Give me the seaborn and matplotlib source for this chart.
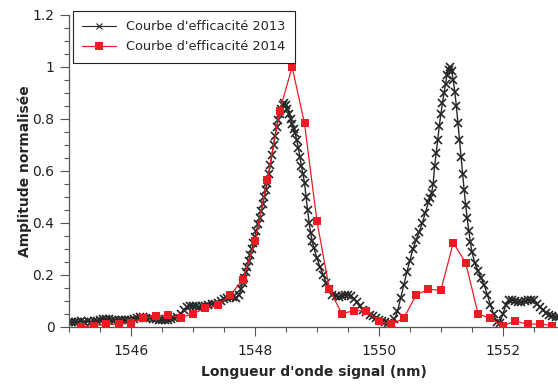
import numpy as np
import pandas as pd
import matplotlib
matplotlib.use("Agg")
import matplotlib.pyplot as plt
from matplotlib.ticker import MultipleLocator, FuncFormatter
import seaborn as sns

# Courbe 2013 (black crosses)
wl_2013 = [
    1545.00, 1545.05, 1545.10, 1545.15, 1545.20, 1545.25, 1545.30, 1545.35, 1545.40, 1545.45,
    1545.50, 1545.55, 1545.60, 1545.65, 1545.70, 1545.75, 1545.80, 1545.85, 1545.90, 1545.95,
    1546.00, 1546.05, 1546.10, 1546.15, 1546.20, 1546.25, 1546.30, 1546.35, 1546.40, 1546.45,
    1546.50, 1546.55, 1546.60, 1546.65, 1546.70, 1546.75, 1546.80, 1546.85, 1546.90, 1546.95,
    1547.00, 1547.05, 1547.10, 1547.15, 1547.20, 1547.25, 1547.30, 1547.35, 1547.40, 1547.45,
    1547.50, 1547.55, 1547.60, 1547.65, 1547.70,
    1547.750, 1547.775, 1547.800, 1547.825, 1547.850, 1547.875, 1547.900, 1547.925, 1547.950, 1547.975,
    1548.000, 1548.025, 1548.050, 1548.075, 1548.100, 1548.125, 1548.150, 1548.175, 1548.200, 1548.225,
    1548.250, 1548.275, 1548.300, 1548.325, 1548.350, 1548.375, 1548.400, 1548.425, 1548.450, 1548.475,
    1548.500, 1548.525, 1548.550, 1548.575, 1548.600, 1548.625, 1548.650, 1548.675, 1548.700, 1548.725,
    1548.750, 1548.775, 1548.800, 1548.825, 1548.850, 1548.875, 1548.900, 1548.925, 1548.950,
    1549.00, 1549.05, 1549.10, 1549.15, 1549.20, 1549.25, 1549.30, 1549.35, 1549.40, 1549.45,
    1549.50, 1549.55, 1549.60, 1549.65, 1549.70, 1549.75, 1549.80, 1549.85, 1549.90, 1549.95,
    1550.00, 1550.05, 1550.10, 1550.15, 1550.20, 1550.25, 1550.30, 1550.35, 1550.40, 1550.45,
    1550.50, 1550.55, 1550.60, 1550.65, 1550.70, 1550.75,
    1550.800, 1550.825, 1550.850, 1550.875, 1550.900, 1550.925, 1550.950, 1550.975, 1551.000, 1551.025,
    1551.050, 1551.075, 1551.100, 1551.125, 1551.150, 1551.175, 1551.200, 1551.225, 1551.250, 1551.275,
    1551.300, 1551.325, 1551.350, 1551.375, 1551.400, 1551.425, 1551.450, 1551.475, 1551.500,
    1551.55, 1551.60, 1551.65, 1551.70, 1551.75, 1551.80, 1551.85, 1551.90, 1551.95,
    1552.00, 1552.05, 1552.10, 1552.15, 1552.20, 1552.25, 1552.30, 1552.35, 1552.40, 1552.45,
    1552.50, 1552.55, 1552.60, 1552.65, 1552.70, 1552.75, 1552.80, 1552.85, 1552.90,
]
amp_2013 = [
    0.020, 0.020, 0.021, 0.020, 0.022, 0.021, 0.022, 0.020, 0.022, 0.025,
    0.028, 0.030, 0.030, 0.029, 0.028, 0.027, 0.028, 0.027, 0.026, 0.026,
    0.027, 0.030, 0.036, 0.040, 0.038, 0.035, 0.033, 0.031, 0.030, 0.028,
    0.026, 0.026, 0.028, 0.031, 0.034, 0.040, 0.050, 0.065, 0.076, 0.080,
    0.080, 0.079, 0.078, 0.080, 0.082, 0.086, 0.089, 0.090, 0.094, 0.100,
    0.106, 0.112, 0.117, 0.115, 0.112,
    0.125, 0.148, 0.170, 0.190, 0.210, 0.232, 0.255, 0.278, 0.300, 0.322,
    0.345, 0.370, 0.395, 0.420, 0.445, 0.472, 0.500, 0.527, 0.555, 0.590,
    0.625, 0.662, 0.700, 0.735, 0.770, 0.797, 0.820, 0.840, 0.855, 0.860,
    0.855, 0.840, 0.820, 0.800, 0.780, 0.763, 0.745, 0.718, 0.690, 0.655,
    0.620, 0.588, 0.555, 0.500, 0.450, 0.400, 0.360, 0.330, 0.305,
    0.265, 0.230, 0.200, 0.170, 0.145, 0.125, 0.118, 0.117, 0.118, 0.122,
    0.125, 0.120, 0.108, 0.095, 0.080, 0.065, 0.056, 0.048, 0.041, 0.034,
    0.027, 0.022, 0.018, 0.015, 0.014, 0.030, 0.060, 0.110, 0.160, 0.210,
    0.255, 0.300, 0.335, 0.365, 0.400, 0.440,
    0.480, 0.495, 0.515, 0.550, 0.620, 0.670, 0.720, 0.775, 0.820, 0.862,
    0.900, 0.935, 0.970, 0.990, 1.000, 0.985, 0.950, 0.905, 0.850, 0.785,
    0.720, 0.655, 0.590, 0.528, 0.470, 0.418, 0.370, 0.328, 0.290,
    0.245, 0.215, 0.190, 0.160, 0.125, 0.085, 0.050, 0.020, 0.015,
    0.050, 0.085, 0.103, 0.105, 0.100, 0.097, 0.098, 0.100, 0.102, 0.104,
    0.102, 0.090, 0.078, 0.065, 0.052, 0.045, 0.042, 0.040, 0.040,
]

# Courbe 2014 (red squares)
wl_2014 = [
    1545.2, 1545.4, 1545.6, 1545.8, 1546.0, 1546.2, 1546.4, 1546.6, 1546.8, 1547.0,
    1547.2, 1547.4, 1547.6, 1547.8, 1548.0, 1548.2, 1548.4, 1548.6, 1548.8, 1549.0,
    1549.2, 1549.4, 1549.6, 1549.8, 1550.0, 1550.2, 1550.4, 1550.6, 1550.8, 1551.0,
    1551.2, 1551.4, 1551.6, 1551.8, 1552.0, 1552.2, 1552.4, 1552.6, 1552.8,
]
amp_2014 = [
    0.000, 0.005, 0.010, 0.010, 0.017, 0.033, 0.043, 0.046, 0.036, 0.051,
    0.072, 0.085, 0.123, 0.180, 0.330, 0.567, 0.832, 1.000, 0.783, 0.408,
    0.147, 0.051, 0.063, 0.062, 0.023, 0.010, 0.033, 0.123, 0.145, 0.141,
    0.324, 0.247, 0.051, 0.033, 0.004, 0.023, 0.010, 0.013, 0.004,
]

label_2013 = "Courbe d'efficacité 2013"
label_2014 = "Courbe d'efficacité 2014"

sns.set_theme(style="ticks")
plt.rcParams["font.family"] = ["DejaVu Sans"]
plt.rcParams["axes.edgecolor"] = "#555555"
plt.rcParams["xtick.color"] = "#555555"
plt.rcParams["ytick.color"] = "#555555"
plt.rcParams["xtick.labelcolor"] = "#222222"
plt.rcParams["ytick.labelcolor"] = "#222222"

fig = plt.figure(figsize=(5.58, 3.89), dpi=100)
ax = fig.add_axes([69 / 558, 1 - 327 / 389, 1 - 69 / 558, (327 - 15) / 389])

sns.lineplot(x=wl_2013, y=amp_2013, ax=ax, color="#262626", lw=1.0,
             marker="x", markersize=5.5, markeredgewidth=1.2,
             markeredgecolor="#262626", label=label_2013, zorder=2)
sns.lineplot(x=wl_2014, y=amp_2014, ax=ax, color="#ed1c24", lw=0.9,
             marker="s", markersize=6.3, markeredgewidth=0,
             label=label_2014, zorder=3)

ax.set_xlim(1545, 1552.89)
ax.set_ylim(0, 1.2)
ax.xaxis.set_major_locator(MultipleLocator(2))
ax.xaxis.set_minor_locator(MultipleLocator(0.5))
ax.yaxis.set_major_locator(MultipleLocator(0.2))
ax.yaxis.set_minor_locator(MultipleLocator(0.05))
ax.yaxis.set_major_formatter(FuncFormatter(lambda v, p: f"{v:g}"))
ax.tick_params(which="major", direction="out", length=6.5, width=0.8, labelsize=10, pad=4)
ax.tick_params(axis="x", which="major", pad=5.5)
ax.tick_params(which="minor", direction="out", length=3.5, width=0.8)
sns.despine(ax=ax)
ax.spines["left"].set_linewidth(0.9)
ax.spines["bottom"].set_linewidth(0.9)

ax.set_xlabel("Longueur d'onde signal (nm)", fontsize=10, fontweight="bold", labelpad=5)
ax.set_ylabel("Amplitude normalisée", fontsize=10, fontweight="bold", labelpad=0.5)

leg = ax.legend(loc="upper left", bbox_to_anchor=(0.008, 1.0128), borderaxespad=0,
                fontsize=9.3, frameon=True, fancybox=False, handlelength=2.6,
                borderpad=0.72, labelspacing=0.55, handletextpad=0.8)
leg.get_frame().set_edgecolor("#222222")
leg.get_frame().set_linewidth(0.8)
leg.get_frame().set_alpha(1)
# smaller cross in the legend handle, as in the original
h13 = leg.get_lines()[0]
h13.set_markersize(4)
h13.set_markeredgewidth(0.8)
h13.set_linewidth(0.8)

fig.savefig("out.png", dpi=100)
